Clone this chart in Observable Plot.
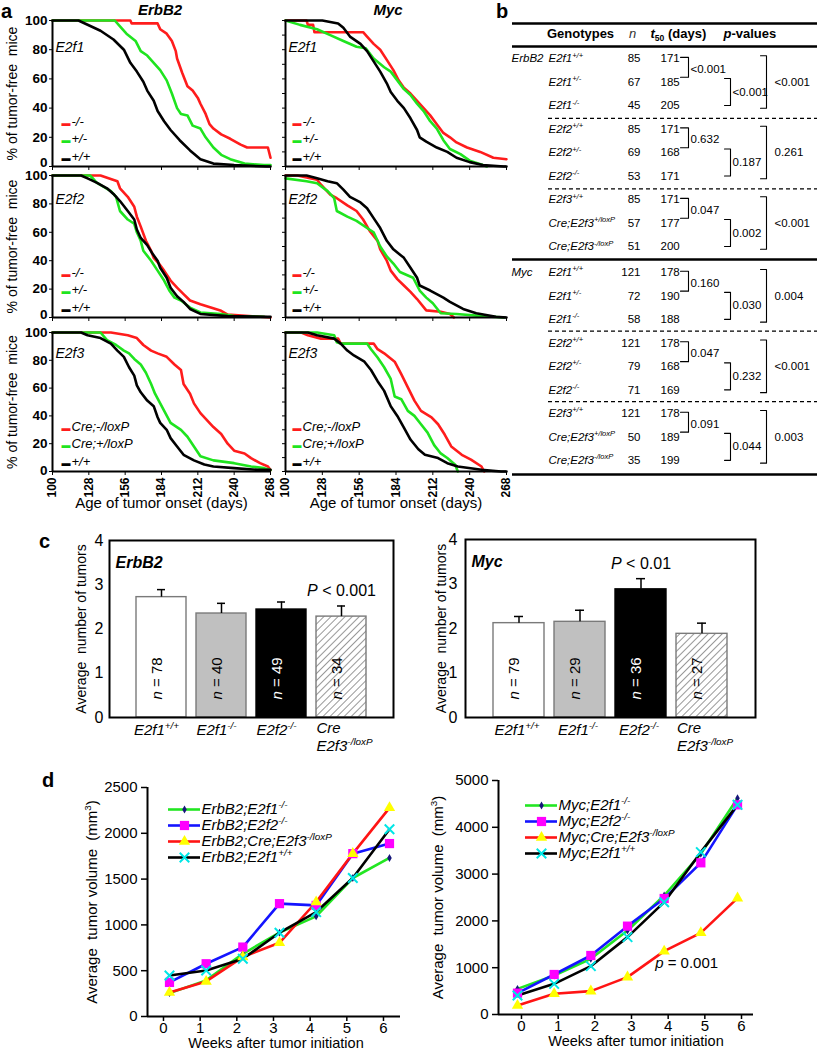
<!DOCTYPE html>
<html>
<head>
<meta charset="utf-8">
<script src="https://cdn.jsdelivr.net/npm/d3@7"></script>
<script src="https://cdn.jsdelivr.net/npm/@observablehq/plot@0.6"></script>
<style>
html,body{margin:0;padding:0;background:#fff;}
#root{position:relative;width:819px;height:1050px;overflow:hidden;font-family:'Liberation Sans',Arial,sans-serif;color:#000;}
.lab{position:absolute;white-space:nowrap;line-height:normal;}
</style>
</head>
<body>
<div id="root"></div>
<script>
// ================= DATA =================
// ---- Panel a: Kaplan-Meier curves, [day, % tumor-free] ----
const survDays = [100, 128, 156, 184, 212, 240, 268];
const survPct = [0, 20, 40, 60, 80, 100];

const erbb2_e2f1_ko = [[100,100],[160,100],[161,98],[181,98],[183,94],[188,91],[192,86],[195,79],[196,74],[200,64],[204,55],[208,52],[212,47],[214,43],[218,36],[221,29],[224,26],[230,22],[237,19],[245,15],[250,13],[266,13],[268,6]];
const erbb2_e2f1_het = [[100,100],[148,100],[152,96],[157,91],[164,86],[168,79],[173,76],[178,71],[183,66],[188,59],[192,50],[196,40],[199,36],[204,35],[208,28],[214,26],[218,20],[224,13],[230,8],[237,5],[248,2],[263,1],[268,1]];
const erbb2_e2f1_wt = [[100,100],[120,100],[137,93],[147,87],[155,80],[160,71],[165,65],[170,58],[173,52],[178,45],[181,38],[186,31],[191,25],[198,18],[206,11],[214,5],[224,2],[240,1],[265,0],[268,0]];

const erbb2_e2f2_ko = [[100,100],[137,100],[150,96],[152,91],[158,85],[163,78],[165,71],[168,64],[172,54],[176,47],[178,42],[182,38],[186,33],[191,26],[196,21],[201,16.5],[206,12],[214,9.4],[222,7],[230,4.7],[235,2],[260,0.5],[268,0]];
const erbb2_e2f2_het = [[100,100],[129,100],[134,95],[145,89],[149,85],[152,75],[158,69],[163,66],[165,60],[168,54],[170,47],[176,40],[181,33],[186,26],[190,19],[194,14],[199,12],[206,7],[214,3.5],[230,2.5],[240,1],[263,0.5]];
const erbb2_e2f2_wt = [[100,100],[122,100],[127,98],[134,95],[142,91],[147,87],[152,82],[158,75],[163,69],[165,62],[168,56],[173,51],[177,45],[181,40],[183,35],[188,28],[191,21],[196,15],[201,11],[206,6],[214,2.5],[235,1],[266,0.5],[268,0.5]];

const erbb2_e2f3_ko = [[100,100],[145,100],[158,98],[165,96],[170,91],[176,87],[181,85],[188,82.5],[194,77],[199,73],[201,63],[206,56],[209,49],[214,42],[219,37],[224,32],[230,27],[235,20],[240,15],[248,13],[253,9.6],[260,6],[266,3.6],[268,1]];
const erbb2_e2f3_het = [[100,100],[137,100],[142,94.5],[149,91],[155,87],[159,85],[163,81],[168,77],[172,71],[176,63],[179,56],[183,49],[187,42],[191,35],[199,30],[204,25],[209,18],[214,11],[224,8],[240,6],[253,3.6],[263,2.4],[268,1]];
const erbb2_e2f3_wt = [[100,100],[122,100],[127,98],[137,96],[145,92],[150,87],[155,82.5],[159,75],[163,69],[165,62],[168,57],[173,51],[178,47],[181,39],[183,35],[188,30],[191,24],[196,18],[201,12],[209,8],[217,5],[224,3.6],[240,2.4],[258,1.2],[268,1.2]];

const myc_e2f1_ko = [[100,100],[116,100],[117,97],[121,97],[122,92],[159,92],[162,89],[167,84],[172,80],[177,73],[182,66],[186,59],[190,54],[195,50],[200,45],[205,40],[210,35],[215,29],[220,23],[225,20],[230,16.5],[238,13],[248,10],[258,6],[268,5]];
const myc_e2f1_het = [[100,100],[111,97],[124,94],[134,90],[144,86],[154,82],[161,81],[167,74],[175,68],[180,65],[185,59],[190,53],[195,49],[200,43],[205,38],[210,31],[215,26],[220,18],[225,12],[233,8.5],[240,4],[250,1],[253,0]];
const myc_e2f1_wt = [[100,100],[128,100],[140,98],[144,95],[149,89],[157,84],[162,79],[167,72],[172,65],[177,57],[180,51],[185,45],[190,40],[195,33],[200,25],[202,20],[207,17],[215,13],[223,10],[230,6],[240,3],[250,1],[266,0],[268,0]];

const myc_e2f2_ko = [[100,100],[109,100],[124,97],[127,93.5],[134,86.5],[139,84],[147,79],[154,75],[159,69],[164,61],[170,54],[172,48],[177,40],[180,33],[185,27],[190,22.5],[195,18],[200,13],[207,5],[218,4],[225,2.5],[228,0]];
const myc_e2f2_het = [[100,98],[116,96],[124,94.6],[132,89],[137,84],[139,75],[147,71],[154,68],[162,63],[167,60],[172,50],[177,43],[182,38],[187,32],[197,28],[202,19],[207,14],[212,10],[218,3],[230,2.5],[250,1],[266,0]];
const myc_e2f2_wt = [[100,100],[116,100],[124,98],[132,96],[139,94.6],[144,90],[149,85],[157,81],[162,77],[167,70],[172,63],[177,54],[182,48],[190,42],[195,35],[200,28],[202,22.5],[210,19],[220,14],[225,11],[235,6],[245,3],[260,0.5],[268,0]];

const myc_e2f3_ko = [[100,100],[112,100],[117,98],[127,95.6],[140,95.6],[142,92],[167,92],[170,88],[175,85],[183,79],[188,70],[193,60.5],[198,51],[203,43.6],[211,39],[216,34],[221,26.6],[226,18],[234,12],[241,8.5],[249,3.6],[251,0]];
const myc_e2f3_het = [[100,100],[124,100],[137,98],[139,93],[142,92],[162,92],[165,88],[170,82],[175,75],[180,66.6],[183,54],[188,52],[193,43.6],[198,40],[203,34],[208,28],[213,19],[218,13],[223,9.7],[229,4.8],[231,0]];
const myc_e2f3_wt = [[100,100],[117,100],[124,98],[137,95.6],[142,92],[147,87],[152,83.5],[160,79],[165,73],[170,65],[175,58],[180,47],[185,40],[190,31.5],[195,23],[201,16],[206,12],[216,9.7],[223,6],[231,3.6],[249,1.2],[264,0],[268,0]];

const legendGermline = ["-/-", "+/-", "+/+"];
const legendCre = ["Cre;-/loxP", "Cre;+/loxP", "+/+"];

// ---- Panel b: table ----
const tblSpecies = ["ErbB2", "Myc"];
const tblGenotypes = ["E2f1^{+/+}", "E2f1^{+/-}", "E2f1^{-/-}", "E2f2^{+/+}", "E2f2^{+/-}", "E2f2^{-/-}", "E2f3^{+/+}", "Cre;E2f3^{+/loxP}", "Cre;E2f3^{-/loxP}"];
const tblN_ErbB2 = [85, 67, 45, 85, 69, 53, 85, 57, 51];
const tblT50_ErbB2 = [171, 185, 205, 171, 168, 171, 171, 177, 200];
const tblN_Myc = [121, 72, 58, 121, 79, 71, 121, 50, 35];
const tblT50_Myc = [178, 190, 188, 178, 168, 169, 178, 189, 199];
const pFirstPair_ErbB2 = ["<0.001", "0.632", "0.047"];
const pSecondPair_ErbB2 = ["<0.001", "0.187", "0.002"];
const pOuter_ErbB2 = ["<0.001", "0.261", "<0.001"];
const pFirstPair_Myc = ["0.160", "0.047", "0.091"];
const pSecondPair_Myc = ["0.030", "0.232", "0.044"];
const pOuter_Myc = ["0.004", "<0.001", "0.003"];

// ---- Panel c: bars ----
const barCats = ["E2f1+/+", "E2f1-/-", "E2f2-/-", "Cre E2f3-/loxP"];
const barLabel1 = ["E2f1^{+/+}", "E2f1^{-/-}", "E2f2^{-/-}", "Cre"];
const barLabel2 = ["", "", "", "E2f3^{-/loxP}"];
const erbb2Mean = [2.72, 2.35, 2.44, 2.28];
const erbb2Err = [0.17, 0.23, 0.17, 0.24];
const erbb2N = [78, 40, 49, 34];
const mycMean = [2.12, 2.15, 2.88, 1.88];
const mycErr = [0.15, 0.26, 0.24, 0.24];
const mycN = [79, 29, 36, 27];
const barTicks = [0, 1, 2, 3, 4];

// ---- Panel d: tumor volume ----
const weeks = [0, 1, 2, 3, 4, 5, 6];
const erbb2VolE2f1KO = [255, 394, 685, 915, 1093, 1512, 1731];
const erbb2VolE2f2KO = [372, 576, 758, 1232, 1213, 1778, 1888];
const erbb2VolE2f3KO = [262, 383, 649, 805, 1250, 1778, 2278];
const erbb2VolWT = [448, 503, 630, 915, 1140, 1512, 2044];
const mycVolE2f1KO = [548, 833, 1190, 1795, 2543, 3433, 4623];
const mycVolE2f2KO = [456, 855, 1261, 1888, 2479, 3241, 4480];
const mycVolE2f3KO = [192, 442, 499, 798, 1353, 1745, 2486];
const mycVolWT = [406, 655, 1033, 1653, 2400, 3469, 4480];
const erbb2VolNames = ["ErbB2;E2f1^{-/-}", "ErbB2;E2f2^{-/-}", "ErbB2;Cre;E2f3^{-/loxP}", "ErbB2;E2f1^{+/+}"];
const mycVolNames = ["Myc;E2f1^{-/-}", "Myc;E2f2^{-/-}", "Myc;Cre;E2f3^{-/loxP}", "Myc;E2f1^{+/+}"];

// ================= STYLES =================
const FONT = "'Liberation Sans', Arial, sans-serif";
const survColors = ["#ff1c1c", "#1fe41f", "#000000"];
const barFills = ["#ffffff", "#c0c0c0", "#000000", "url(#hatch)"];
const barStrokes = ["#7a7a7a", "#7a7a7a", "#000000", "#7a7a7a"];
const volLineColors = ["#22e622", "#1414ff", "#ff1414", "#000000"];
const volSymbols = ["diamond", "square", "triangle", "times"];
const volMarkColors = ["#16167a", "#ff00ff", "#ffff00", "#00e6e6"];
const volMarkR = [2.4, 5.2, 4.2, 4.4];
const baseStyle = {fontFamily: FONT, background: "transparent", overflow: "visible", color: "black"};

// ================= HELPERS =================
const root = document.getElementById("root");
const SVGNS = "http://www.w3.org/2000/svg";

function fmt(el) {
  const s = el.textContent;
  if (!/[\^_~]\{/.test(s)) return;
  const fs = parseFloat(getComputedStyle(el).fontSize) || 12;
  while (el.firstChild) el.removeChild(el.firstChild);
  const parts = s.split(/([\^_~]\{[^}]*\})/).filter(p => p !== "");
  let shift = 0;
  for (const p of parts) {
    const ts = document.createElementNS(SVGNS, "tspan");
    let target = 0, txt = p;
    if (p.startsWith("^{")) { target = -0.4 * fs; txt = p.slice(2, -1); ts.setAttribute("font-size", (0.66 * fs) + "px"); }
    else if (p.startsWith("_{")) { target = 0.22 * fs; txt = p.slice(2, -1); ts.setAttribute("font-size", (0.66 * fs) + "px"); }
    else if (p.startsWith("~{")) { txt = p.slice(2, -1); ts.setAttribute("font-style", "italic"); }
    const dy = target - shift;
    if (dy) ts.setAttribute("dy", dy);
    shift = target;
    ts.textContent = txt;
    el.appendChild(ts);
  }
}
function rich(svg) {
  svg.querySelectorAll("text").forEach(t => {
    if (t.querySelector("tspan")) t.querySelectorAll("tspan").forEach(fmt); else fmt(t);
  });
}
function place(svg, left, top) {
  const d = document.createElement("div");
  d.style.position = "absolute";
  d.style.left = left + "px";
  d.style.top = top + "px";
  svg.style.maxWidth = "none";
  d.appendChild(svg);
  root.appendChild(d);
  rich(svg);
  return svg;
}
function htmlLabel(html, left, top, css) {
  const d = document.createElement("div");
  d.className = "lab";
  d.style.cssText = `left:${left}px;top:${top}px;${css}`;
  d.innerHTML = html;
  root.appendChild(d);
}

// ================= PANEL A =================
function survival({row, col, gene, curves, legend}) {
  const fTop = [20, 175, 332][row], fBot = [166, 317, 471][row];
  const fL = col ? 285 : 52, fR = col ? 506 : 270;
  const mT = 8, mB = row === 2 ? 44 : 8, mL = col ? 14 : 52, mR = 8;
  const legDy = [-41, -23.5, -6];
  const geneDy = [22, 19, 16][row];
  const zeroDy = [-4, -3, -1][row];
  const marks = [
    ...curves.map((c, i) => Plot.line(c, {x: d => d[0], y: d => d[1], stroke: survColors[i], strokeWidth: 2.6})),
    Plot.ruleX([100], {strokeWidth: 2}),
    Plot.ruleY([0], {strokeWidth: 2}),
    Plot.axisY({ticks: col ? d3.range(0, 101, 10) : survPct, tickSize: 3, tickPadding: 2,
      tickFormat: col ? () => "" : d => (d === 0 ? "" : String(d)), fontSize: 13.5, fontWeight: "bold", label: null}),
    Plot.axisX({ticks: survDays, tickSize: 4, tickPadding: 2, tickRotate: row === 2 ? -90 : 0,
      tickFormat: row === 2 ? d => String(d) : () => "", fontSize: 12, fontWeight: "bold", label: null}),
    Plot.text([gene], {frameAnchor: "top-left", dx: 3, dy: geneDy, text: d => d, fontSize: 14, fontStyle: "italic", textAnchor: "start"}),
    ...legend.map((t, i) => Plot.text([t], {frameAnchor: "bottom-left", dx: col ? 7 : 9, dy: legDy[i], text: () => "\u25AC", fill: survColors[i], fontSize: 9, textAnchor: "start"})),
    ...legend.map((t, i) => Plot.text([t], {frameAnchor: "bottom-left", dx: col ? 17 : 19, dy: legDy[i], text: d => d, fontSize: 13, fontStyle: "italic", textAnchor: "start"}))
  ];
  if (!col) {
    marks.push(Plot.text(survPct.filter(d => d === 0), {y: d => d, frameAnchor: "left", dx: -5, dy: zeroDy, text: d => String(d),
      fontSize: 13.5, fontWeight: "bold", textAnchor: "end"}));
    marks.push(Plot.text(["% of tumor-free  mice"], {frameAnchor: "left", dx: -40, rotate: -90, text: d => d, fontSize: 14, textAnchor: "middle"}));
  }
  if (row === 2) marks.push(Plot.text(["Age of tumor onset (days)"], {frameAnchor: "bottom", dy: 36, text: d => d, fontSize: 15}));
  const svg = Plot.plot({
    width: mL + (fR - fL) + mR, height: mT + (fBot - fTop) + mB,
    marginTop: mT, marginBottom: mB, marginLeft: mL, marginRight: mR,
    x: {domain: [100, 268]}, y: {domain: [0, 100]},
    style: baseStyle,
    marks
  });
  place(svg, fL - mL, fTop - mT);
}

const survPanels = [
  {row: 0, col: 0, gene: "E2f1", curves: [erbb2_e2f1_ko, erbb2_e2f1_het, erbb2_e2f1_wt], legend: legendGermline},
  {row: 1, col: 0, gene: "E2f2", curves: [erbb2_e2f2_ko, erbb2_e2f2_het, erbb2_e2f2_wt], legend: legendGermline},
  {row: 2, col: 0, gene: "E2f3", curves: [erbb2_e2f3_ko, erbb2_e2f3_het, erbb2_e2f3_wt], legend: legendCre},
  {row: 0, col: 1, gene: "E2f1", curves: [myc_e2f1_ko, myc_e2f1_het, myc_e2f1_wt], legend: legendGermline},
  {row: 1, col: 1, gene: "E2f2", curves: [myc_e2f2_ko, myc_e2f2_het, myc_e2f2_wt], legend: legendGermline},
  {row: 2, col: 1, gene: "E2f3", curves: [myc_e2f3_ko, myc_e2f3_het, myc_e2f3_wt], legend: legendCre}
];
survPanels.forEach(survival);

htmlLabel("a", 1, 0, "font-size:20px;font-weight:bold;");
htmlLabel("b", 496, 0, "font-size:20px;font-weight:bold;");
htmlLabel("c", 39, 530, "font-size:20px;font-weight:bold;");
htmlLabel("d", 42, 769, "font-size:20px;font-weight:bold;");
htmlLabel("ErbB2", 160, 1, "font-size:15px;font-weight:bold;font-style:italic;transform:translateX(-50%);");
htmlLabel("Myc", 388, 1, "font-size:15px;font-weight:bold;font-style:italic;transform:translateX(-50%);");

// ================= PANEL B =================
const TCOL = {species: 1, genotype: 38, n: 130, t50: 150, p12: 180, p23: 222, p13: 264,
  headGen: 70, headN: 122, headT: 140, headP: 213, lineL: 2, lineR: 307, dashL: 38};
function rowPos(s, k) { return s * 9 + k + (s ? 0.1 : 0); }
const tblRows = [];
[[tblN_ErbB2, tblT50_ErbB2], [tblN_Myc, tblT50_Myc]].forEach(([nA, tA], s) =>
  tblGenotypes.forEach((g, k) => tblRows.push({s, k, g, n: nA[k], t: tA[k], p: rowPos(s, k)})));
const pRows = [];
[[pFirstPair_ErbB2, pSecondPair_ErbB2, pOuter_ErbB2], [pFirstPair_Myc, pSecondPair_Myc, pOuter_Myc]].forEach((arrs, s) =>
  [0, 1, 2].forEach(g => pRows.push({r0: rowPos(s, g * 3), a: arrs[0][g], b: arrs[1][g], c: arrs[2][g]})));
const brackets = pRows.flatMap((r, j) => [
  [[170, r.r0 - 0.05], [178, r.r0 - 0.05], [178, r.r0 + 0.8], [170, r.r0 + 0.8]],
  [[214, r.r0 + 0.85], [220, r.r0 + 0.85], [220, r.r0 + 2.0], [214, r.r0 + 2.0]],
  [[250, r.r0 - 0.12], [256, r.r0 - 0.12], [256, r.r0 + 2.12], [250, r.r0 + 2.12]]
].flatMap((pts, m) => pts.map(([x, y]) => ({x, y, id: j * 3 + m}))));

const TFS = 11.5;
const tableSvg = Plot.plot({
  width: 309, height: 480, margin: 0,
  x: {domain: [0, 309], range: [0, 309], axis: null},
  y: {domain: [0, 17], range: [58, 457.5], axis: null},
  style: baseStyle,
  marks: [
    Plot.ruleY([-1.49, -0.51, 8.55, 17.7], {x1: TCOL.lineL, x2: TCOL.lineR, strokeWidth: 2.6}),
    Plot.ruleY([2.55, 5.55, 11.6, 14.6], {x1: TCOL.dashL, x2: TCOL.lineR, strokeWidth: 1.2, strokeDasharray: "4,3"}),
    Plot.text(["Genotypes"], {x: TCOL.headGen, y: -1.05, text: d => d, fontWeight: "bold", fontSize: 13}),
    Plot.text(["~{n}"], {x: TCOL.headN, y: -1.05, text: d => d, fontSize: 13, fill: "#333"}),
    Plot.text(["~{t}_{50} (days)"], {x: TCOL.headT, y: -1.05, text: d => d, fontWeight: "bold", fontSize: 13, textAnchor: "start"}),
    Plot.text(["~{p}-values"], {x: TCOL.headP, y: -1.05, text: d => d, fontWeight: "bold", fontSize: 13, textAnchor: "start"}),
    Plot.text(tblSpecies, {x: TCOL.species, y: (d, i) => rowPos(i, 0), text: d => d, fontStyle: "italic", fontSize: TFS, textAnchor: "start"}),
    Plot.text(tblRows, {x: TCOL.genotype, y: "p", text: "g", fontStyle: "italic", fontSize: TFS, textAnchor: "start"}),
    Plot.text(tblRows, {x: TCOL.n, y: "p", text: "n", fontSize: TFS, textAnchor: "end"}),
    Plot.text(tblRows, {x: TCOL.t50, y: "p", text: "t", fontSize: TFS, textAnchor: "start"}),
    Plot.line(brackets, {x: "x", y: "y", z: "id", strokeWidth: 1.1}),
    Plot.text(pRows, {x: TCOL.p12, y: d => d.r0 + 0.45, text: "a", fontSize: TFS, textAnchor: "start"}),
    Plot.text(pRows, {x: TCOL.p23, y: d => d.r0 + 1.42, text: "b", fontSize: TFS, textAnchor: "start"}),
    Plot.text(pRows, {x: TCOL.p13, y: d => d.r0 + 1.0, text: "c", fontSize: TFS, textAnchor: "start"})
  ]
});
place(tableSvg, 510, 0);

// ================= PANEL C =================
function addHatch(svg) {
  const defs = document.createElementNS(SVGNS, "defs");
  const pat = document.createElementNS(SVGNS, "pattern");
  pat.setAttribute("id", "hatch");
  pat.setAttribute("patternUnits", "userSpaceOnUse");
  pat.setAttribute("width", "5");
  pat.setAttribute("height", "5");
  pat.setAttribute("patternTransform", "rotate(45)");
  const bg = document.createElementNS(SVGNS, "rect");
  bg.setAttribute("width", "5"); bg.setAttribute("height", "5"); bg.setAttribute("fill", "#fff");
  const ln = document.createElementNS(SVGNS, "line");
  ln.setAttribute("x1", "0"); ln.setAttribute("y1", "0"); ln.setAttribute("x2", "0"); ln.setAttribute("y2", "5");
  ln.setAttribute("stroke", "#8c8c8c"); ln.setAttribute("stroke-width", "1.8");
  pat.appendChild(bg); pat.appendChild(ln); defs.appendChild(pat);
  svg.insertBefore(defs, svg.firstChild);
}
function barChart({mean, err, n, title, pText, pIndex, fL, fR, fT, fB, cL, cT, titleDx, tickPad, labelDx}) {
  const mL = fL - cL, mT = fT - cT, mR = 10, mB = 52;
  const rows = barCats.map((c, i) => ({c, i, m: mean[i], e: err[i], n: n[i]}));
  const svg = Plot.plot({
    width: mL + (fR - fL) + mR, height: mT + (fB - fT) + mB,
    marginLeft: mL, marginTop: mT, marginRight: mR, marginBottom: mB,
    x: {domain: barCats, paddingInner: 0.165, paddingOuter: 0.435, axis: null},
    y: {domain: [0, 4]},
    color: {type: "identity"},
    style: baseStyle,
    marks: [
      Plot.barY(rows, {x: "c", y: "m", fill: d => barFills[d.i], stroke: d => barStrokes[d.i], strokeWidth: 1.4}),
      Plot.ruleX(rows, {x: "c", y1: "m", y2: d => d.m + d.e, strokeWidth: 1.5}),
      Plot.tickY(rows, {x: "c", y: d => d.m + d.e, strokeWidth: 1.5, insetLeft: 21, insetRight: 21}),
      Plot.text(rows, {x: "c", frameAnchor: "bottom", dy: -39, rotate: -90, text: d => `~{n} = ${d.n}`,
        fill: d => d.i === 2 ? "#ffffff" : "#000000", fontSize: 15}),
      Plot.frame({strokeWidth: 2}),
      Plot.axisY({ticks: barTicks, tickSize: 0, tickPadding: tickPad, tickFormat: d => String(d), fontSize: 16, label: null}),
      Plot.text(["Average  number of tumors"], {frameAnchor: "left", dx: titleDx, rotate: -90, text: d => d, fontSize: 14, textAnchor: "middle"}),
      Plot.text([title], {frameAnchor: "top-left", dx: 6, dy: 16, text: d => d, fontSize: 16, fontWeight: "bold", fontStyle: "italic", textAnchor: "start"}),
      Plot.text([pIndex], {x: i => barCats[i], y: i => mean[i] + err[i], dy: -15, text: () => pText, fontSize: 16}),
      Plot.text(rows.filter(d => d.i < 3), {x: "c", frameAnchor: "bottom", dy: 17, dx: labelDx, text: d => barLabel1[d.i], fontSize: 15, fontStyle: "italic"}),
      Plot.text(rows.filter(d => d.i === 3), {x: "c", frameAnchor: "bottom", dy: 15, dx: -25, text: d => barLabel1[d.i], fontSize: 15, fontStyle: "italic", textAnchor: "start"}),
      Plot.text(rows.filter(d => d.i === 3), {x: "c", frameAnchor: "bottom", dy: 33, dx: -25, text: d => barLabel2[d.i], fontSize: 15, fontStyle: "italic", textAnchor: "start"})
    ]
  });
  addHatch(svg);
  place(svg, cL, cT);
}
barChart({mean: erbb2Mean, err: erbb2Err, n: erbb2N, title: "ErbB2", pText: "~{P} < 0.001", pIndex: 3,
  fL: 109, fR: 393, fT: 540, fB: 717, cL: 40, cT: 525, titleDx: -28, tickPad: 6, labelDx: -5});
barChart({mean: mycMean, err: mycErr, n: mycN, title: "Myc", pText: "~{P} < 0.01", pIndex: 2,
  fL: 465, fR: 755, fT: 539, fB: 717, cL: 400, cT: 524, titleDx: -24, tickPad: 8, labelDx: -2});

// ================= PANEL D =================
function volChart({series, fL, fR, fT, fB, cL, cT, yMax, yStep, xDom, ptDx, titleDx, xTitleDx, note}) {
  const mL = fL - cL, mT = fT - cT, mR = 12, mB = 1050 - fB;
  const marks = [
    Plot.ruleX([xDom[0]], {strokeWidth: 2}),
    Plot.ruleY([0], {strokeWidth: 2}),
    Plot.axisY({ticks: d3.range(0, yMax + 1, yStep), tickSize: 6, tickPadding: 4, tickFormat: d => String(d), fontSize: 15, label: null, strokeWidth: 1.5}),
    Plot.axisX({ticks: weeks, tickSize: 5, tickPadding: 1, tickFormat: d => String(d), fontSize: 15, label: null, strokeWidth: 1.5}),
    ...series.map((vals, i) => Plot.line(weeks, {x: w => w, y: (w, k) => vals[k], dx: ptDx, stroke: volLineColors[i], strokeWidth: 2.6})),
    ...series.map((vals, i) => volSymbols[i] === "times"
      ? Plot.dot(weeks, {x: w => w, y: (w, k) => vals[k], dx: ptDx, symbol: volSymbols[i], r: volMarkR[i], stroke: volMarkColors[i], strokeWidth: 2, fill: "none"})
      : Plot.dot(weeks, {x: w => w, y: (w, k) => vals[k], dx: ptDx, symbol: volSymbols[i], r: volMarkR[i], fill: volMarkColors[i], stroke: "none"})),
    Plot.text(["Average  tumor volume  (mm^{3})"], {frameAnchor: "left", dx: titleDx, rotate: -90, text: d => d, fontSize: 15, textAnchor: "middle"}),
    Plot.text(["Weeks after tumor initiation"], {frameAnchor: "bottom", dx: xTitleDx, dy: 31, text: d => d, fontSize: 14.5})
  ];
  if (note) marks.push(note);
  const svg = Plot.plot({
    width: mL + (fR - fL) + mR, height: mT + (fB - fT) + mB,
    marginLeft: mL, marginTop: mT, marginRight: mR, marginBottom: mB,
    x: {domain: xDom}, y: {domain: [0, yMax]},
    style: baseStyle,
    marks
  });
  place(svg, cL, cT);
}
function volLegend(names, left, top, rowSpan) {
  const marks = [];
  names.forEach((name, i) => {
    marks.push(Plot.ruleY([name], {y: d => d, x1: 0, x2: 1, stroke: volLineColors[i], strokeWidth: 2.6}));
    marks.push(volSymbols[i] === "times"
      ? Plot.dot([name], {x: 0.5, y: d => d, symbol: volSymbols[i], r: volMarkR[i], stroke: volMarkColors[i], strokeWidth: 2, fill: "none"})
      : Plot.dot([name], {x: 0.5, y: d => d, symbol: volSymbols[i], r: volMarkR[i], fill: volMarkColors[i], stroke: "none"}));
    marks.push(Plot.text([name], {x: 1, y: d => d, text: d => d, dx: 1, fontSize: 15, fontStyle: "italic", textAnchor: "start"}));
  });
  const svg = Plot.plot({
    width: 240, height: rowSpan + 22, margin: 0,
    x: {domain: [0, 1], range: [8, 40], axis: null},
    y: {type: "point", domain: names, range: [10, 10 + rowSpan], axis: null},
    style: baseStyle,
    marks
  });
  place(svg, left, top);
}
volChart({series: [erbb2VolE2f1KO, erbb2VolE2f2KO, erbb2VolE2f3KO, erbb2VolWT],
  fL: 147, fR: 400, fT: 787, fB: 1016, cL: 40, cT: 770, yMax: 2500, yStep: 500,
  xDom: [-0.436, 6.464], ptDx: 6, titleDx: -55, xTitleDx: 2});
volChart({series: [mycVolE2f1KO, mycVolE2f2KO, mycVolE2f3KO, mycVolWT],
  fL: 498, fR: 753, fT: 780, fB: 1014, cL: 405, cT: 765, yMax: 5000, yStep: 1000,
  xDom: [-0.627, 6.327], ptDx: -4, titleDx: -60, xTitleDx: 10,
  note: Plot.text([4], {x: d => d, y: d => mycVolE2f3KO[d], dx: -13, dy: 12, text: () => "~{p} = 0.001", fontSize: 15, textAnchor: "start"})});
volLegend(erbb2VolNames, 160, 789, 67);
volLegend(mycVolNames, 517, 787, 64);
</script>
</body>
</html>
